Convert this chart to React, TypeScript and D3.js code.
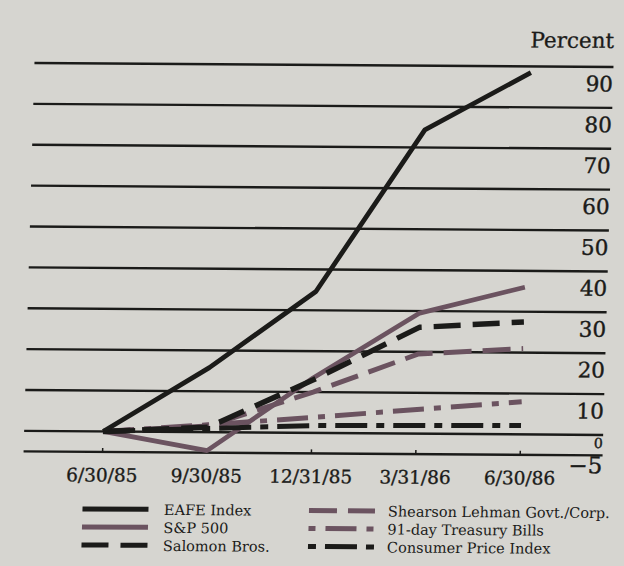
import React from "react";
import * as d3 from "d3";

// Cumulative total return, percent, quarter-end dates
const dates = ["6/30/85", "9/30/85", "12/31/85", "3/31/86", "6/30/86"];
const eafeIndex = [0, 15.8, 34.6, 74.3, 88.5];
const sp500 = [0, -4.5, 13.5, 29.5, 36];
const salomonBros = [0, 1.2, 13, 26, 27.5];
const shearsonLehman = [0, 1.5, 10, 19.5, 21];
const treasuryBills = [0, 1.8, 3.8, 5.9, 8.0];
const consumerPrices = [0, 0.9, 1.8, 2.0, 2.2];

const yTicks = [90, 80, 70, 60, 50, 40, 30, 20, 10, 0, -5];

const W = 624;
const H = 566;
const BG = "#d6d5d0";
const INK = "#1b1b19";
const MAUVE = "#6b5360";
const FONT = "'DejaVu Serif', serif";

type Series = {
  name: string;
  values: number[];
  color: string;
  width: number;
  dash?: string;
  legendOffset?: number;
};

const series: Series[] = [
  { name: "91-day Treasury Bills", values: treasuryBills, color: MAUVE, width: 5, dash: "31 10 7 10", legendOffset: 41 },
  { name: "Shearson Lehman Govt./Corp.", values: shearsonLehman, color: MAUVE, width: 5, dash: "28 11" },
  { name: "S&P 500", values: sp500, color: MAUVE, width: 4.8 },
  { name: "Consumer Price Index", values: consumerPrices, color: INK, width: 5, dash: "32 9 8 9", legendOffset: 41 },
  { name: "Salomon Bros.", values: salomonBros, color: INK, width: 5.5, dash: "27 12" },
  { name: "EAFE Index", values: eafeIndex, color: INK, width: 4.8 },
];

const legendLeft = ["EAFE Index", "S&P 500", "Salomon Bros."];
const legendRight = ["Shearson Lehman Govt./Corp.", "91-day Treasury Bills", "Consumer Price Index"];

export default function App() {
  const gridLeft = 29;
  const gridRight = 608;

  const x = d3.scalePoint<string>().domain(dates).range([108, 525.6]);
  const y = d3.scaleLinear().domain([-5, 90]).range([453.4, 65]);

  const line = d3
    .line<number>()
    .x((_, i) => x(dates[i]) as number)
    .y((v) => y(v));

  const byName = (n: string) => series.find((s) => s.name === n)!;

  const legendRow = (name: string, row: number, col: number) => {
    const s = byName(name);
    const cy = 510.5 + row * 18;
    const x0 = col === 0 ? 89.5 : 316;
    const len = 66;
    return (
      <g key={name}>
        <line
          x1={x0}
          x2={x0 + len}
          y1={cy}
          y2={cy}
          stroke={s.color}
          strokeWidth={5}
          strokeDasharray={s.dash}
          strokeDashoffset={s.legendOffset ?? 0}
        />
        <text
          x={col === 0 ? 171 : 395}
          y={cy + 5.5}
          fontFamily={FONT}
          fontSize={14.5}
          fill={INK}
        >
          {name}
        </text>
      </g>
    );
  };

  return (
    <svg
      width={W}
      height={H}
      viewBox={`0 0 ${W} ${H}`}
      style={{ position: "absolute", left: 0, top: 0, display: "block" }}
    >
      <rect x={0} y={0} width={W} height={H} fill={BG} />
      <g transform="matrix(1, 0.007, -0.028, 1, 7.28, -2.24)">
        <text
          x={gridRight}
          y={46}
          textAnchor="end"
          fontFamily={FONT}
          fontSize={21.5}
          fill={INK}
          stroke={INK}
          strokeWidth={0.3}
        >
          Percent
        </text>

        {yTicks.map((t) => (
          <line
            key={`g${t}`}
            x1={gridLeft}
            x2={gridRight}
            y1={y(t)}
            y2={y(t)}
            stroke={INK}
            strokeWidth={2.4}
          />
        ))}

        {yTicks.map((t) => {
          const size = t === 0 ? 14 : t === -5 ? 23 : 21.5;
          const dy = t === 0 ? 13 : t === -5 ? 18 : 24.5;
          return (
            <text
              key={`l${t}`}
              x={gridRight}
              y={y(t) + dy}
              textAnchor="end"
              fontFamily={FONT}
              fontSize={size}
              fill={INK}
              stroke={INK}
              strokeWidth={0.4}
            >
              {t < 0 ? `\u2212${Math.abs(t)}` : t}
            </text>
          );
        })}

        {dates.map((d) => (
          <g key={d}>
            <line
              x1={x(d)}
              x2={x(d)}
              y1={y(-5)}
              y2={y(-5) - 4}
              stroke={INK}
              strokeWidth={1.5}
            />
            <text
              x={x(d)}
              y={483}
              textAnchor="middle"
              fontFamily={FONT}
              fontSize={18.5}
              fill={INK}
              stroke={INK}
              strokeWidth={0.35}
            >
              {d}
            </text>
          </g>
        ))}

        {series.map((s) => (
          <path
            key={s.name}
            d={line(s.values) ?? ""}
            fill="none"
            stroke={s.color}
            strokeWidth={s.width}
            strokeDasharray={s.dash}
            strokeLinejoin="round"
          />
        ))}

        {legendLeft.map((n, i) => legendRow(n, i, 0))}
        {legendRight.map((n, i) => legendRow(n, i, 1))}
      </g>
    </svg>
  );
}
